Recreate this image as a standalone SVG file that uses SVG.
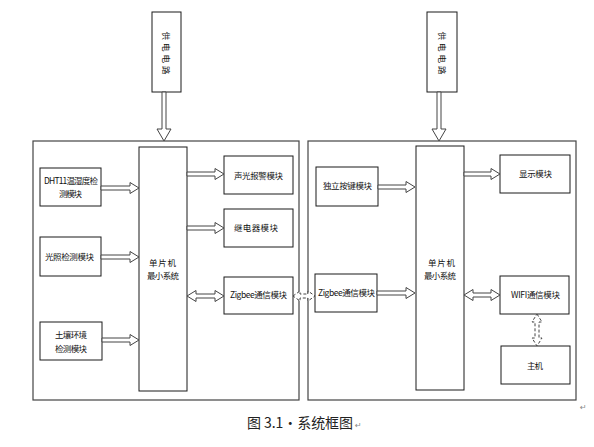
<svg xmlns="http://www.w3.org/2000/svg" width="594" height="447" viewBox="0 0 594 447">
<style>
.box{fill:#fff;stroke:#1a1a1a;stroke-width:1}
.big{fill:none;stroke:#444;stroke-width:1.2}
.t{font-family:"Noto Sans CJK SC","Liberation Sans",sans-serif;font-size:8.5px;fill:#111;text-anchor:start}
.arr{fill:#fff;stroke:#444;stroke-width:1}
.dash{fill:#fff;stroke:#444;stroke-width:1;stroke-dasharray:3 2}
.cap{font-family:"Noto Sans CJK SC","Liberation Sans",sans-serif;font-size:14px;fill:#222}
.mark{font-family:"DejaVu Sans",sans-serif;font-size:8px;fill:#888}
</style>
<rect width="594" height="447" fill="#fff"/>

<g id="panel-left"><rect class="big" x="33" y="141" width="266" height="259"/></g>
<g id="panel-right"><rect class="big" x="308" y="141" width="268" height="259"/></g>

<g id="power-left"><rect class="box" x="152" y="12" width="29" height="80"/>
<text class="t" x="166" y="56" text-anchor="middle" transform="rotate(90 166 53)" textLength="43" lengthAdjust="spacing" style="text-anchor:middle">供电电路</text></g>
<g id="power-right"><rect class="box" x="427" y="12" width="30" height="80"/>
<text class="t" x="442" y="56" text-anchor="middle" transform="rotate(90 442 53)" textLength="43" lengthAdjust="spacing" style="text-anchor:middle">供电电路</text></g>

<g id="dht11"><rect class="box" x="40" y="168" width="61" height="38"/>
<text class="t" x="44" y="184" textLength="54" lengthAdjust="spacing">DHT11温湿度检</text>
<text class="t" x="59" y="197" textLength="23" lengthAdjust="spacing">测模块</text></g>
<g id="light"><rect class="box" x="40" y="237" width="61" height="39"/>
<text class="t" x="45" y="260" textLength="49" lengthAdjust="spacing">光照检测模块</text></g>
<g id="soil"><rect class="box" x="40" y="322" width="62" height="38"/>
<text class="t" x="55" y="338" textLength="32" lengthAdjust="spacing">土壤环境</text>
<text class="t" x="55" y="352" textLength="32" lengthAdjust="spacing">检测模块</text></g>

<g id="mcu-left"><rect class="box" x="139" y="147" width="48" height="244"/>
<text class="t" x="149" y="266" textLength="27" lengthAdjust="spacing">单片机</text>
<text class="t" x="147" y="279" textLength="32" lengthAdjust="spacing">最小系统</text></g>

<g id="alarm"><rect class="box" x="224" y="156" width="69" height="38"/>
<text class="t" x="234" y="179" textLength="49" lengthAdjust="spacing">声光报警模块</text></g>
<g id="relay"><rect class="box" x="224" y="209" width="69" height="38"/>
<text class="t" x="234" y="231" textLength="44" lengthAdjust="spacing">继电器模块</text></g>
<g id="zigbee-left"><rect class="box" x="224" y="277" width="69" height="37"/>
<text class="t" x="230" y="298" textLength="57" lengthAdjust="spacing">Zigbee通信模块</text></g>

<g id="key"><rect class="box" x="316" y="167" width="62" height="39"/>
<text class="t" x="323" y="189" textLength="49" lengthAdjust="spacing">独立按键模块</text></g>
<g id="zigbee-right"><rect class="box" x="315" y="274" width="62" height="38"/>
<text class="t" x="318" y="296" textLength="57" lengthAdjust="spacing">Zigbee通信模块</text></g>

<g id="mcu-right"><rect class="box" x="416" y="146" width="48" height="244"/>
<text class="t" x="428" y="266" textLength="27" lengthAdjust="spacing">单片机</text>
<text class="t" x="424" y="279" textLength="32" lengthAdjust="spacing">最小系统</text></g>

<g id="display"><rect class="box" x="500" y="155" width="70" height="38"/>
<text class="t" x="519" y="177" textLength="33" lengthAdjust="spacing">显示模块</text></g>
<g id="wifi"><rect class="box" x="500" y="276" width="69" height="38"/>
<text class="t" x="511" y="298" textLength="49" lengthAdjust="spacing">WIFI通信模块</text></g>
<g id="host"><rect class="box" x="501" y="346" width="69" height="38"/>
<text class="t" x="527" y="369" textLength="16" lengthAdjust="spacing">主机</text></g>

<g id="connectors">
<!-- power arrows down -->
<polygon class="arr" points="162,92 166,92 166,129 171,129 164,141 157,129 162,129"/>
<polygon class="arr" points="437,92 441,92 441,129 446,129 439,141 432,129 437,129"/>
<!-- left inputs -->
<polygon class="arr" points="101,186 130,186 130,182.5 139,188 130,193.5 130,190 101,190"/>
<polygon class="arr" points="101,255 130,255 130,251.5 139,257 130,262.5 130,259 101,259"/>
<polygon class="arr" points="102,338 130,338 130,334.5 139,340 130,345.5 130,342 102,342"/>
<!-- left outputs -->
<polygon class="arr" points="187,172 215,172 215,168.5 224,174 215,179.5 215,176 187,176"/>
<polygon class="arr" points="187,226 215,226 215,222.5 224,228 215,233.5 215,230 187,230"/>
<polygon class="arr" points="187,296 196,290.5 196,294 215,294 215,290.5 224,296 215,301.5 215,298 196,298 196,301.5"/>
<!-- inter-panel dashed -->
<polygon class="dash" points="293,296 300,291 300,294 308,294 308,291 315,296 308,301 308,298 300,298 300,301"/>
<!-- right inputs -->
<polygon class="arr" points="378,185 406,185 406,181.5 415,187 406,192.5 406,189 378,189"/>
<polygon class="arr" points="377,291 406,291 406,287.5 415,293 406,298.5 406,295 377,295"/>
<!-- right outputs -->
<polygon class="arr" points="464,172 491,172 491,168.5 500,174 491,179.5 491,176 464,176"/>
<polygon class="arr" points="464,295 473,289.5 473,293 491,293 491,289.5 500,295 491,300.5 491,297 473,297 473,300.5"/>
<!-- wifi-host dashed -->
<polygon class="dash" points="537,314 542,322 539,322 539,338 542,338 537,346 532,338 535,338 535,322 532,322"/>
</g>

<text class="cap" x="247" y="428" textLength="106" lengthAdjust="spacing">图 3.1·系统框图</text>
<text class="mark" x="355" y="428">↵</text>
<text class="mark" x="580" y="410">↵</text>
</svg>
